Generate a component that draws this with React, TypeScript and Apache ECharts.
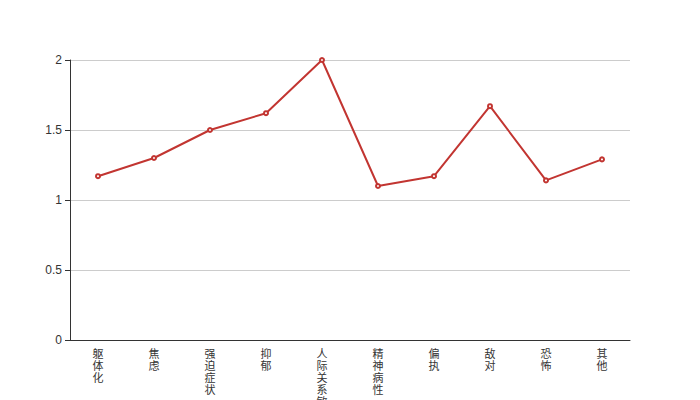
import React, { useEffect, useRef } from "react";
import * as echarts from "echarts";

const categories = ["躯体化", "焦虑", "强迫症状", "抑郁", "人际关系敏感", "精神病性", "偏执", "敌对", "恐怖", "其他"];
const values = [1.17, 1.3, 1.5, 1.62, 2.0, 1.1, 1.17, 1.67, 1.14, 1.29];
const yTicks = { min: 0, max: 2, interval: 0.5 };

export default function App() {
  const ref = useRef<HTMLDivElement>(null);
  useEffect(() => {
    const chart = echarts.init(ref.current!, null, { renderer: "svg" });
    chart.setOption({
      animation: false,
      grid: { left: 62, right: 62, top: 52, bottom: 60, containLabel: false, outerBoundsMode: "none" },
      xAxis: {
        type: "category",
        data: categories,
        axisLine: { lineStyle: { color: "#333" } },
        axisTick: { lineStyle: { color: "#333" } },
        axisLabel: {
          color: "#333",
          fontSize: 11,
          lineHeight: 12,
          margin: 7,
          interval: 0,
          fontFamily: "Noto Sans CJK SC",
          formatter: (v: string) => v.split("").join("\n"),
        },
      },
      yAxis: {
        type: "value",
        min: yTicks.min,
        max: yTicks.max,
        interval: yTicks.interval,
        axisLine: { show: true, lineStyle: { color: "#333" } },
        axisTick: { show: true, lineStyle: { color: "#333" } },
        axisLabel: { color: "#333", fontSize: 12 },
        splitLine: { lineStyle: { color: "#ccc" } },
      },
      series: [
        {
          type: "line",
          data: values,
          symbol: "emptyCircle",
          symbolSize: 4,
          lineStyle: { color: "#c23531", width: 2 },
          itemStyle: { color: "#c23531" },
        },
      ],
    });
    return () => chart.dispose();
  }, []);
  return <div ref={ref} style={{ width: 684, height: 392 }} />;
}
